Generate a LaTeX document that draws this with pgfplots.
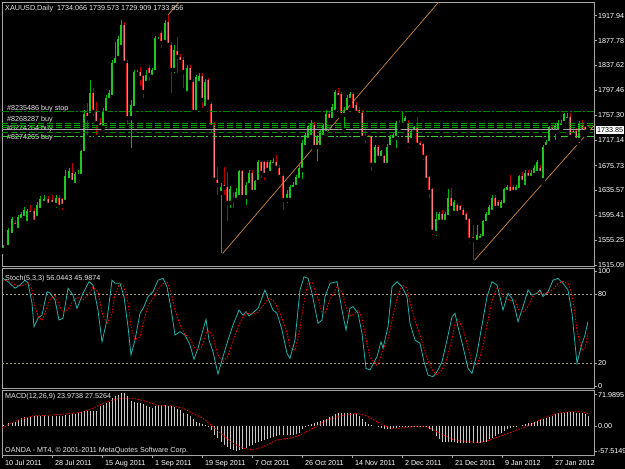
\documentclass[border=0pt]{standalone}
\usepackage{pgfplots}
\pgfplotsset{compat=1.18}
\usepackage{pgfplotstable}
\usepackage{fontspec}
\setmainfont{Liberation Sans}

\definecolor{bullc}{RGB}{30,200,30}
\definecolor{bullw}{RGB}{0,185,0}
\definecolor{bearo}{RGB}{225,20,20}
\definecolor{beari}{RGB}{255,125,125}
\definecolor{bearw}{RGB}{190,0,0}
\definecolor{frame}{RGB}{165,165,165}
\definecolor{txt}{RGB}{230,230,230}
\definecolor{trend}{RGB}{205,135,60}
\definecolor{stochk}{RGB}{32,178,170}
\definecolor{histc}{RGB}{200,200,200}
\definecolor{ordg}{RGB}{0,135,0}
\definecolor{ordm}{RGB}{0,160,0}
\definecolor{ordl}{RGB}{60,205,50}
\definecolor{lvl}{RGB}{160,160,140}

\newcommand{\mtfont}{\fontsize{7.2}{8.5}\selectfont}

\pgfplotstableread{
x o h l c
3 1539.3 1547.4 1536.1 1544.1
8 1544.1 1574.9 1540.9 1571.6
12 1563.5 1592.6 1560.3 1587.8
18 1571.6 1595.9 1568.4 1591.0
21 1587.8 1600.7 1584.6 1595.9
24 1591.0 1608.8 1587.8 1603.9
27 1582.9 1605.6 1578.1 1600.7
37 1591.0 1616.9 1587.8 1612.0
40 1603.9 1626.6 1600.7 1620.1
44 1615.3 1628.2 1610.4 1621.7
56 1612.0 1628.2 1603.9 1623.3
65 1616.9 1668.6 1612.0 1657.3
69 1652.4 1671.8 1649.2 1665.4
75 1644.3 1665.4 1639.5 1660.5
78 1658.9 1668.6 1652.4 1662.1
81 1658.9 1700.9 1655.7 1697.7
84 1696.1 1765.5 1691.2 1757.5
90 1757.5 1814.0 1752.6 1793.0
103 1736.5 1768.8 1730.0 1762.3
106 1760.7 1789.8 1755.8 1784.9
109 1781.7 1797.9 1776.9 1793.0
112 1786.5 1846.3 1781.7 1841.5
115 1838.3 1875.4 1835.0 1849.6
118 1849.6 1885.1 1846.3 1878.7
121 1867.4 1911.0 1864.1 1902.9
131 1752.6 1781.7 1700.9 1773.6
134 1768.8 1830.2 1765.5 1826.9
137 1823.7 1830.2 1818.9 1826.9
146 1809.2 1830.2 1806.0 1822.1
152 1818.9 1833.4 1814.0 1830.2
155 1826.9 1885.1 1822.1 1881.9
158 1877.0 1883.5 1873.8 1880.3
165 1875.4 1911.0 1870.6 1906.1
174 1830.2 1870.6 1822.1 1862.5
187 1793.0 1838.3 1789.8 1833.4
196 1762.3 1822.1 1759.1 1817.3
199 1809.2 1825.3 1804.3 1820.5
205 1768.8 1815.6 1763.9 1810.8
221 1631.4 1647.6 1531.2 1641.1
230 1615.3 1642.7 1603.9 1636.3
236 1620.1 1639.5 1615.3 1633.0
239 1624.9 1668.6 1620.1 1665.4
246 1624.9 1649.2 1608.8 1644.3
249 1644.3 1668.6 1641.1 1663.7
255 1633.0 1652.4 1628.2 1649.2
258 1649.2 1684.7 1646.0 1681.5
270 1663.7 1684.7 1658.9 1679.9
273 1676.7 1688.0 1671.8 1681.5
287 1620.1 1636.3 1612.0 1628.2
290 1620.1 1644.3 1615.3 1639.5
293 1637.9 1649.2 1633.0 1644.3
296 1641.1 1660.5 1636.3 1655.7
299 1652.4 1676.7 1647.6 1671.8
302 1668.6 1717.1 1650.8 1712.2
305 1705.7 1728.4 1700.9 1725.1
308 1717.1 1741.3 1712.2 1738.1
311 1721.9 1749.4 1717.1 1744.5
317 1705.7 1725.1 1679.9 1720.3
320 1705.7 1733.2 1700.9 1730.0
323 1721.9 1742.9 1717.1 1738.1
326 1728.4 1765.5 1723.5 1757.5
332 1749.4 1775.2 1746.2 1770.4
335 1762.3 1797.9 1759.1 1794.6
344 1757.5 1770.4 1733.2 1765.5
347 1762.3 1789.8 1759.1 1784.9
350 1781.7 1794.6 1776.9 1789.8
375 1676.7 1709.0 1671.8 1705.7
381 1688.0 1700.9 1684.7 1697.7
387 1676.7 1710.6 1673.4 1705.7
390 1705.7 1725.1 1700.9 1720.3
393 1717.1 1730.0 1713.8 1725.1
396 1720.3 1747.8 1700.9 1744.5
402 1741.3 1762.3 1738.1 1744.5
405 1744.5 1755.8 1739.7 1752.6
411 1717.1 1733.2 1713.8 1730.0
414 1730.0 1739.7 1725.1 1736.5
436 1566.8 1600.7 1558.7 1587.8
439 1584.6 1600.7 1579.7 1595.9
445 1584.6 1600.7 1579.7 1595.9
448 1592.6 1637.9 1587.8 1623.3
454 1599.1 1620.1 1595.9 1615.3
477 1552.2 1579.7 1547.4 1563.5
480 1555.5 1565.2 1552.2 1561.9
483 1558.7 1587.8 1555.5 1584.6
486 1582.9 1600.7 1579.7 1595.9
489 1592.6 1612.0 1589.4 1607.2
492 1600.7 1628.2 1597.5 1623.3
501 1603.9 1620.1 1600.7 1615.3
504 1612.0 1639.5 1608.8 1636.3
507 1633.0 1644.3 1629.8 1641.1
516 1633.0 1644.3 1629.8 1639.5
519 1636.3 1660.5 1633.0 1657.3
525 1641.1 1668.6 1637.9 1663.7
531 1655.7 1668.6 1652.4 1663.7
534 1660.5 1676.7 1657.3 1671.8
537 1663.7 1684.7 1660.5 1679.9
543 1652.4 1709.0 1647.6 1705.7
546 1705.7 1717.1 1700.9 1713.8
549 1712.2 1739.7 1709.0 1736.5
555 1730.0 1742.9 1713.8 1738.1
558 1730.0 1749.4 1725.1 1744.5
561 1738.1 1749.4 1733.2 1744.5
564 1744.5 1760.7 1739.7 1757.5
567 1749.4 1760.7 1744.5 1754.2
579 1717.1 1747.8 1709.0 1744.5
}\bulltab

\pgfplotstableread{
x o h l c
15 1582.9 1587.8 1573.2 1578.1
30 1602.3 1612.0 1591.0 1597.5
34 1600.7 1607.2 1579.7 1584.6
48 1620.1 1626.6 1607.2 1612.0
52 1618.5 1628.2 1607.2 1613.6
59 1623.3 1628.2 1600.7 1608.8
62 1620.1 1623.3 1600.7 1610.4
72 1663.7 1679.9 1644.3 1649.2
87 1760.7 1776.9 1721.9 1752.6
93 1793.0 1801.1 1752.6 1762.3
96 1762.3 1778.5 1721.9 1744.5
100 1744.5 1752.6 1728.4 1738.1
124 1902.9 1907.7 1836.6 1841.5
127 1841.5 1846.3 1738.1 1752.6
140 1826.9 1835.0 1801.1 1817.3
143 1818.9 1822.1 1781.7 1794.6
149 1833.4 1838.3 1809.2 1822.1
161 1890.0 1893.2 1862.5 1873.8
168 1907.7 1919.1 1865.7 1870.6
171 1870.6 1875.4 1789.8 1830.2
177 1859.3 1883.5 1822.1 1851.2
180 1851.2 1856.0 1836.6 1843.1
183 1846.3 1851.2 1797.9 1826.9
190 1833.4 1838.3 1806.0 1810.8
193 1810.8 1815.6 1757.5 1762.3
202 1820.5 1825.3 1765.5 1781.7
208 1814.0 1817.3 1773.6 1778.5
211 1775.2 1778.5 1725.1 1738.1
214 1741.3 1746.2 1647.6 1652.4
217 1652.4 1673.4 1624.9 1644.3
224 1644.3 1673.4 1624.9 1639.5
227 1641.1 1665.4 1582.9 1615.3
233 1623.3 1633.0 1603.9 1620.1
242 1665.4 1668.6 1621.7 1624.9
252 1663.7 1668.6 1628.2 1633.0
261 1679.9 1683.1 1652.4 1663.7
264 1679.9 1683.1 1649.2 1660.5
267 1679.9 1684.7 1662.1 1668.6
276 1679.9 1692.8 1667.0 1671.8
279 1671.8 1676.7 1652.4 1657.3
283 1657.3 1660.5 1600.7 1620.1
314 1741.3 1746.2 1700.9 1705.7
329 1757.5 1762.3 1744.5 1749.4
338 1793.0 1801.1 1781.7 1786.5
341 1789.8 1794.6 1752.6 1757.5
353 1789.8 1794.6 1762.3 1765.5
356 1773.6 1778.5 1755.8 1760.7
359 1765.5 1770.4 1752.6 1757.5
362 1760.7 1765.5 1715.4 1720.3
365 1721.9 1738.1 1709.0 1720.3
368 1721.9 1725.1 1712.2 1718.7
371 1720.3 1723.5 1663.7 1676.7
378 1705.7 1709.0 1684.7 1688.0
384 1689.6 1692.8 1671.8 1676.7
399 1744.5 1749.4 1736.5 1741.3
408 1744.5 1749.4 1700.9 1709.0
417 1736.5 1754.2 1704.1 1709.0
420 1712.2 1715.4 1700.9 1705.7
423 1709.0 1712.2 1681.5 1689.6
426 1689.6 1692.8 1649.2 1652.4
429 1655.7 1658.9 1620.1 1633.0
432 1636.3 1639.5 1560.3 1568.4
442 1595.9 1603.9 1579.7 1584.6
451 1623.3 1639.5 1600.7 1607.2
457 1612.0 1615.3 1594.2 1599.1
460 1608.8 1612.0 1595.9 1600.7
463 1603.9 1607.2 1587.8 1592.6
466 1595.9 1600.7 1579.7 1584.6
469 1587.8 1591.0 1547.4 1555.5
473 1558.7 1579.7 1519.9 1555.5
495 1623.3 1628.2 1602.3 1607.2
498 1615.3 1620.1 1603.9 1607.2
510 1641.1 1660.5 1626.6 1631.4
513 1639.5 1644.3 1628.2 1633.0
522 1657.3 1665.4 1644.3 1649.2
528 1663.7 1668.6 1649.2 1655.7
540 1671.8 1676.7 1660.5 1663.7
552 1736.5 1741.3 1725.1 1730.0
570 1754.2 1760.7 1717.1 1721.9
573 1730.0 1736.5 1720.3 1725.1
576 1730.0 1736.5 1712.2 1717.1
582 1741.3 1749.4 1725.1 1730.0
585 1736.5 1739.7 1725.1 1730.0
588 1734.066 1739.573 1729.909 1733.856
}\beartab

\pgfplotstableread{
x k
3 93.6
8 90.7
15 85
20 87.8
25 92
28 89.6
32 72
34 51.6
38 58.9
42 61.7
47 82
50 80.9
55 74.8
59 57.4
63 58.9
68 85
73 79
77 67.5
83 80.6
89 90.7
93 87.8
98 66
102 38.5
107 57.4
112 92
115 89.3
120 89.3
124 77.7
128 51.6
131 27
135 40
140 63.2
144 69
148 77.7
153 82
158 92
163 93.6
167 86.3
171 67.5
175 44.3
180 47.2
185 44.3
190 35.7
194 23.2
198 32.8
202 45.8
206 58
209 40
213 29.8
218 10.4
223 25.5
228 40
233 53
239 66
243 61.7
246 64.6
249 60.9
253 63.7
258 67.5
265 83.5
268 76.3
273 66
277 63.2
282 48.7
287 28.4
290 24
295 40
300 83.5
304 95
308 93.6
312 80.6
318 54.5
322 57.4
325 77.7
330 89.3
337 90.7
342 66
346 48.7
350 67.5
353 69
358 63.2
362 45.8
366 15.4
370 13.9
377 25.5
381 38.5
383 32.8
388 51.6
392 86.3
397 90.7
402 86.3
407 77.7
410 54.5
415 40
420 37.1
424 21.1
428 9.6
433 8.1
437 12.4
442 21.1
447 40
452 60.3
455 63.2
458 51.6
463 34.2
468 15.4
472 11
477 28.4
482 53
487 77.7
492 90.7
497 87.8
500 77.7
503 66
508 80.6
512 76.3
515 67.5
518 55.9
523 69
528 83.5
532 79
537 80.6
540 83.5
543 77.7
548 82
553 92
558 93.6
563 89.3
568 83.5
572 63.2
575 37.1
577 19.7
582 37.1
585 44.3
588 56.04
}\stochk

\pgfplotstableread{
x d
3 92
8 92
15 88
20 87
25 88
28 90
32 84
34 72
38 61
42 57
47 68
50 75
55 79
59 71
63 64
68 67
73 74
77 77
83 75
89 80
93 86
98 82
102 64
107 54
112 63
115 80
120 90
124 86
128 73
131 52
135 40
140 43
144 57
148 70
153 76
158 84
163 89
167 91
171 82
175 66
180 53
185 45
190 42
194 34
198 31
202 34
206 46
209 48
213 43
218 27
223 21
228 26
233 40
239 53
243 60
246 64
249 63
253 63
258 64
265 72
268 76
273 75
277 69
282 59
287 46
290 34
295 31
300 50
304 73
308 90
312 90
318 76
322 64
325 63
330 75
337 86
342 82
346 68
350 61
353 62
358 66
362 59
366 41
370 25
377 18
381 26
383 32
388 41
392 57
397 76
402 88
407 85
410 73
415 57
420 44
424 33
428 22
433 13
437 10
442 14
447 24
452 41
455 54
458 58
463 50
468 34
472 20
477 18
482 31
487 53
492 74
497 85
500 85
503 78
508 75
512 74
515 75
518 67
523 64
528 69
532 77
537 81
540 81
543 80
548 81
553 84
558 89
563 91
568 89
572 80
575 62
577 48
582 31
585 33
588 45.99
}\stochd

\pgfplotstableread{
x m
3 2
8 6
12 8
15 10
18 14
21 18
24 20
27 20
30 21
34 22
37 22
40 22
44 22
48 22
52 22
56 23
59 23
62 24
65 25
69 26
72 27
75 28
78 30
81 32
84 34
87 34
90 34
93 34
96 35
100 45
103 48
106 52
109 56
112 64
115 68
118 72
121 76
124 77
127 68
131 58
134 55
137 53
140 52
143 50
146 47
149 44
152 41
155 46
158 48
161 48
165 48
168 47
171 46
174 44
177 40
180 36
183 31
187 27
190 22
193 15
196 10
199 7
202 5
205 2
208 -3
211 -10
214 -20
217 -28
221 -36
224 -44
227 -48
230 -52
233 -55
236 -57
239 -55
242 -53
246 -51
249 -47
252 -44
255 -40
258 -36
261 -34
264 -32
267 -30
270 -27
273 -25
276 -23
279 -21
283 -21
287 -21
290 -21
293 -20
296 -18
299 -16
302 -8
305 -1
308 2
311 5
314 8
317 9
320 11
323 14
326 17
329 21
332 24
335 27
338 29
341 29
344 29
347 29
350 29
353 28
356 27
359 22
362 16
365 10
368 5
371 2
375 0
378 -2
381 -5
384 -7
387 -8
390 -7
393 -5
396 -4
399 -3
402 -2
405 -1.5
408 -1.5
411 -1.5
414 -1.5
417 -1.5
420 -1.5
423 -1.5
426 -2
429 -6
432 -12
436 -22
439 -30
442 -36
445 -36
448 -36
451 -36
454 -37
457 -38
460 -38
463 -38
466 -38
469 -38
473 -38
477 -38
480 -38
483 -37
486 -36
489 -31
492 -27
495 -22
498 -19
501 -17
504 -12
507 -8
510 -5
513 -3
516 -1
519 0
522 3
525 5
528 7
531 8
534 10
537 11
540 13
543 15
546 18
549 21
552 24
555 27
558 29
561 30
564 31
567 33
570 33
573 32
576 31
579 30
582 29
585 27
588 24
}\macdtab

\pgfplotstableread{
x s
2 -5
10 6
20 15
33 23
50 25
67 28
80 31
93 41
107 56
120 64
133 64
147 56
157 48
173 46
183 41
193 29
203 18
213 -1.5
223 -21
233 -40
243 -51
253 -55
263 -48
277 -32
290 -28
300 -21
313 -5
327 14
340 23
357 29
367 23
380 6
390 -5
400 -5
413 -1.5
427 -1.5
440 -17
453 -31
467 -36
480 -38
490 -32
503 -21
517 -9
530 2
543 18
557 29
570 33
583 33
588 27.5
}\macdsig

\pgfplotsset{
  mtaxis/.style={
    scale only axis, width=592pt, xmin=2, xmax=594,
    axis line style={draw=frame, line width=0.8pt},
    tick style={draw=frame, line width=0.6pt},
    tick align=outside, major tick length=3pt,
    yticklabel pos=right, ytick pos=right,
    yticklabel style={font=\mtfont, text=white, anchor=west, xshift=-2.5pt},
    xticklabel style={font=\mtfont, text=white},
  },
  wick/.style={only marks, mark=none, error bars/.cd, y dir=plus, y explicit, error mark=none,
    error bar style={draw=#1, line width=0.7pt}},
  body/.style 2 args={only marks, mark=none, error bars/.cd, y dir=plus, y explicit, error mark=none,
    error bar style={draw=#1, line width=#2}},
}

\begin{document}
\begin{tikzpicture}
\useasboundingbox (0pt,0pt) rectangle (625pt,-469pt);
\fill[black] (0pt,0pt) rectangle (625pt,-469pt);
\clip (0pt,0pt) rectangle (625pt,-469pt);

% order labels (drawn first so that the order lines cross them)
\node[anchor=base west, font=\mtfont, text=txt, inner sep=0pt] at (7pt,-110pt) {\#8235486 buy stop};
\node[anchor=base west, font=\mtfont, text=txt, inner sep=0pt] at (7pt,-121pt) {\#8268287 buy};
\node[anchor=base west, font=\mtfont, text=txt, inner sep=0pt] at (7pt,-130.5pt) {\#8274264 buy};
\node[anchor=base west, font=\mtfont, text=txt, inner sep=0pt] at (7pt,-139pt) {\#8274265 buy};

% ---------------- main price panel ----------------
\begin{axis}[mtaxis, at={(2pt,-266pt)}, anchor=south west, height=264pt,
  ymin=1513.4, ymax=1940.1, xtick=\empty,
  ytick={1515.09,1555.25,1595.41,1635.57,1675.73,1717.14,1757.30,1797.46,1837.62,1877.78,1917.94},
  yticklabels={1515.09,1555.25,1595.41,1635.57,1675.73,1717.14,1757.30,1797.46,1837.62,1877.78,1917.94}]
  % wicks
  \addplot[wick=bullw] table[x=x, y=l, y error expr=\thisrow{h}-\thisrow{l}] {\bulltab};
  \addplot[wick=bearw] table[x=x, y=l, y error expr=\thisrow{h}-\thisrow{l}] {\beartab};
  % bodies
  \addplot[body={bullc}{2.2pt}] table[x=x, y=o, y error expr=\thisrow{c}-\thisrow{o}+0.8] {\bulltab};
  \addplot[body={bearo}{2.4pt}] table[x=x, y=c, y error expr=\thisrow{o}-\thisrow{c}+0.8] {\beartab};
  \addplot[body={beari}{0.9pt}] table[x=x, y=c, y error expr=\thisrow{o}-\thisrow{c}+0.8] {\beartab};
  % pending order lines
  \addplot[ordg, line width=0.7pt, dash pattern=on 7pt off 2pt on 2pt off 2pt] coordinates {(2,1762.8) (594,1762.8)};
  \addplot[ordm, line width=0.7pt, dash pattern=on 6pt off 3pt] coordinates {(2,1744.0) (594,1744.0)};
  \addplot[ordm, line width=0.7pt, dash pattern=on 6pt off 3pt] coordinates {(2,1740.2) (594,1740.2)};
  \addplot[ordm, line width=0.7pt, dash pattern=on 6pt off 3pt] coordinates {(2,1736.9) (594,1736.9)};
  \addplot[frame, line width=0.7pt] coordinates {(2,1733.856) (594,1733.856)};
  \addplot[ordg, line width=0.7pt, dash pattern=on 6pt off 3pt] coordinates {(2,1728.9) (594,1728.9)};
  \addplot[ordl, line width=0.7pt, dash pattern=on 7pt off 2pt on 2pt off 2pt] coordinates {(2,1723.5) (594,1723.5)};
  % trend lines
  \addplot[trend, line width=0.7pt] coordinates {(221.3,1531.2) (440,1942.5)};
  \addplot[trend, line width=0.7pt] coordinates {(473,1519.9) (596,1743.7)};
  \addplot[trend, line width=0.7pt] coordinates {(168,1919.1) (180,1941.7)};
\end{axis}

% ---------------- stochastic panel ----------------
\begin{axis}[mtaxis, at={(2pt,-388pt)}, anchor=south west, height=120pt,
  ymin=-1.7, ymax=102.6, xtick=\empty,
  ytick={0,20,80,100}, yticklabels={0,20,80,100}]
  \addplot[lvl, line width=0.6pt, dash pattern=on 2pt off 2pt] coordinates {(2,80) (594,80)};
  \addplot[lvl, line width=0.6pt, dash pattern=on 2pt off 2pt] coordinates {(2,20) (594,20)};
  \addplot[stochk, line width=0.8pt] table[x=x, y=k] {\stochk};
  \addplot[red, line width=0.8pt, dash pattern=on 1.5pt off 1.5pt] table[x=x, y=d] {\stochd};
\end{axis}

% ---------------- MACD panel ----------------
\begin{axis}[mtaxis, at={(2pt,-455pt)}, anchor=south west, height=65pt,
  ymin=-66.7, ymax=82.8,
  ytick={-57.5149,0,71.9895}, yticklabels={-57.5149,0.00,71.9895},
  xtick={2,52,102,152,202,252,302,352,402,452,502,552},
  xticklabels={10 Jul 2011,28 Jul 2011,15 Aug 2011,1 Sep 2011,19 Sep 2011,7 Oct 2011,26 Oct 2011,14 Nov 2011,2 Dec 2011,21 Dec 2011,9 Jan 2012,27 Jan 2012},
  xtick pos=bottom,
  xticklabel style={anchor=north west, xshift=-0.5pt, yshift=1pt}]
  \addplot[ycomb, histc, line width=0.9pt, mark=none] table[x=x, y=m] {\macdtab};
  \addplot[red, line width=0.8pt, dash pattern=on 1.5pt off 1.5pt] table[x=x, y=s] {\macdsig};
\end{axis}

% ---------------- texts ----------------
\node[anchor=base west, font=\mtfont, text=txt, inner sep=0pt] at (5pt,-10.5pt) {XAUUSD,Daily\ \ 1734.066 1739.573 1729.909 1733.856};
\node[anchor=base west, font=\mtfont, text=txt, inner sep=0pt] at (5pt,-280.5pt) {Stoch(5,3,3) 56.0443 45.9874};
\node[anchor=base west, font=\mtfont, text=txt, inner sep=0pt] at (5pt,-398.5pt) {MACD(12,26,9) 23.9738 27.5264};
\node[anchor=base west, font=\mtfont, text=txt, inner sep=0pt] at (5pt,-452.5pt) {OANDA - MT4, © 2001-2011 MetaQuotes Software Corp.};
\node[anchor=west, fill=white, text=black, font=\mtfont, inner sep=1pt] at (596pt,-130pt) {1733.85};
\end{tikzpicture}
\end{document}
